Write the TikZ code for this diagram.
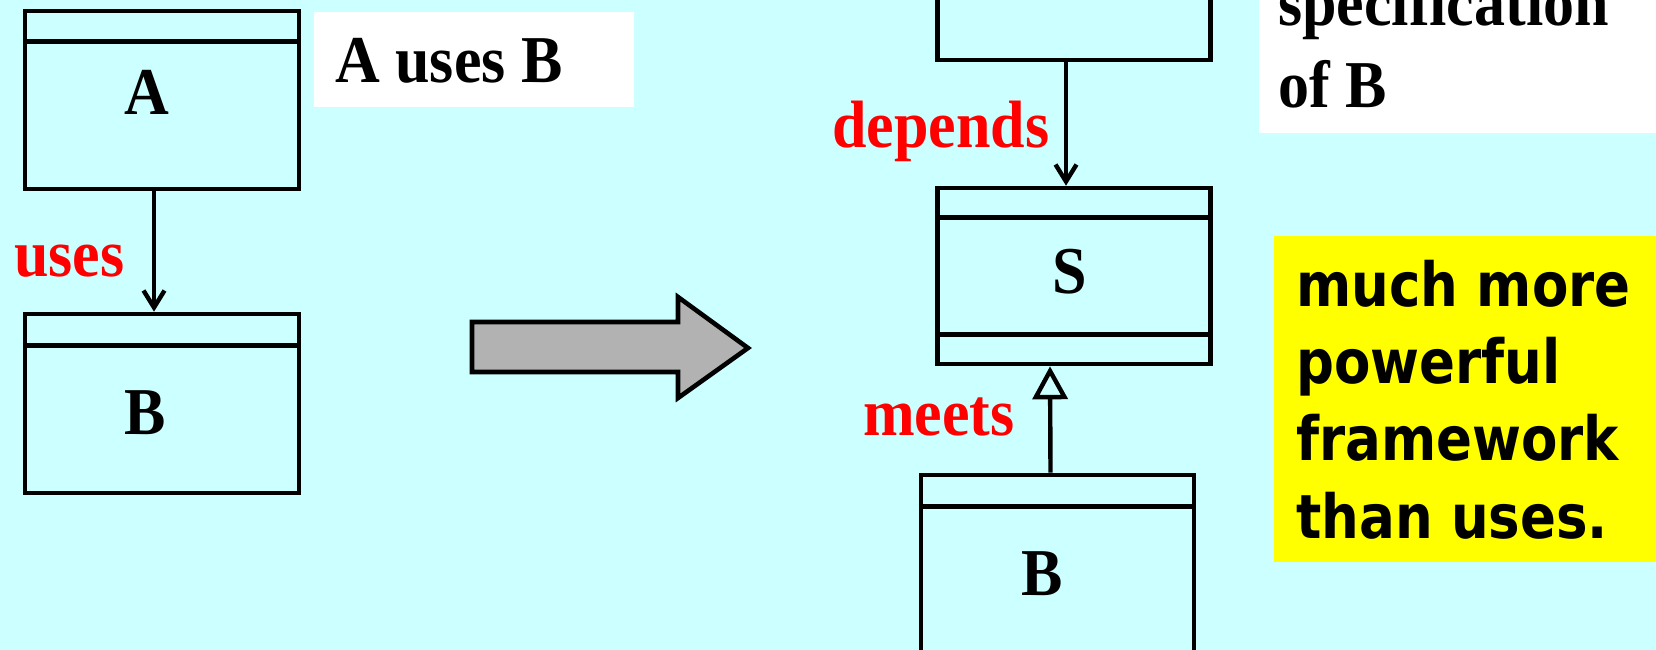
\documentclass[tikz,border=0pt]{standalone}
\usepackage{fontspec}
\setmainfont{Liberation Serif}
\newfontfamily\comicfont{DejaVu Sans}
\usetikzlibrary{arrows.meta}
\definecolor{bgcyan}{HTML}{CCFFFF}
\definecolor{lblred}{HTML}{FF0000}
\definecolor{notey}{HTML}{FFFF00}
\definecolor{arrgray}{HTML}{B2B2B2}
\newcommand\tallt[1]{\scalebox{1}[1.08]{#1}}
\tikzset{
  umlbox/.style={draw=black, line width=4.6pt, fill=bgcyan, rectangle, inner sep=0pt},
  sepline/.style={line width=4.6pt},
  serif/.style={font=\fontsize{62}{76}\selectfont\bfseries, inner sep=0pt},
  rellabel/.style={serif, text=lblred, anchor=base west},
  boxlabel/.style={serif, anchor=base},
  usesarrow/.style={line width=4.4pt, -{Straight Barb[length=17pt,width=21pt,line width=4.4pt]}},
  meetsarrow/.style={line width=4.4pt, -{Triangle[open,length=33pt,width=35pt,line width=4.4pt]}},
}
\begin{document}
\begin{tikzpicture}[x=1pt,y=-1pt]
\useasboundingbox (0,0) rectangle (1656,650);
\clip (0,0) rectangle (1656,650);
\fill[bgcyan] (0,0) rectangle (1656,650);

% left side
\node[umlbox, minimum width=274pt, minimum height=178pt] (A) at (162,100) {};
\draw[sepline] ([yshift=-33pt]A.north west) -- ([yshift=-33pt]A.north east);
\node[boxlabel] (Alab) at (147,115) {\tallt{A}};

\node[umlbox, minimum width=274pt, minimum height=179pt] (Bl) at (162,403.5) {};
\draw[sepline] ([yshift=-34pt]Bl.north west) -- ([yshift=-34pt]Bl.north east);
\node[boxlabel] (Bllab) at (145,434) {\tallt{B}};

\draw[usesarrow] ([xshift=-8pt]A.south) -- ([xshift=-8pt]Bl.north);
\node[rellabel] (uses) at (14,276) {\tallt{uses}};

\fill[white] (314,12) rectangle (634,107);
\node[serif, anchor=base west] (ausesb) at (335,83) {\tallt{A uses B}};

% block arrow
\draw[line width=4.6pt, fill=arrgray, line join=miter]
  (472,322) -- (678,322) -- (678,297) -- (748,348) -- (678,398) -- (678,372) -- (472,372) -- cycle;

% right side
\node[umlbox, minimum width=273pt, minimum height=190pt] (T) at (1074,-35) {};
\node[umlbox, minimum width=273pt, minimum height=176pt] (S) at (1074,276) {};
\draw[sepline] ([yshift=-32pt]S.north west) -- ([yshift=-32pt]S.north east);
\draw[sepline] ([yshift=32pt]S.south west) -- ([yshift=32pt]S.south east);
\node[boxlabel] (Slab) at (1070,293) {\tallt{S}};

\node[umlbox, minimum width=273pt, minimum height=190pt] (Br) at (1057.5,570) {};
\draw[sepline] ([yshift=-34pt]Br.north west) -- ([yshift=-34pt]Br.north east);
\node[boxlabel] (Brlab) at (1042,595) {\tallt{B}};

\draw[usesarrow] ([xshift=-8pt]T.south) -- ([xshift=-8pt]S.north);
\node[rellabel] (depends) at (832,147) {\tallt{depends}};

\draw[meetsarrow] ([xshift=-7pt]Br.north) -- ([xshift=-24pt]S.south);
\node[rellabel] (meets) at (863,435) {\tallt{meets}};

\fill[white] (1258.5,-10) rectangle (1666,133);
\node[serif, anchor=base west] (spec) at (1278,108)
  {\scalebox{1}[1.08]{\begin{tabular}[b]{@{}l@{}}specification\\of B\end{tabular}}};

\fill[notey] (1274,236) rectangle (1666,562);
\node[anchor=base west, inner sep=0pt,
  font=\comicfont\bfseries\fontsize{53}{67}\selectfont] (note) at (1296,538)
  {\scalebox{1}[1.15]{\begin{tabular}[b]{@{}l@{}}much more\\powerful\\framework\\than uses.\end{tabular}}};
\end{tikzpicture}
\end{document}
